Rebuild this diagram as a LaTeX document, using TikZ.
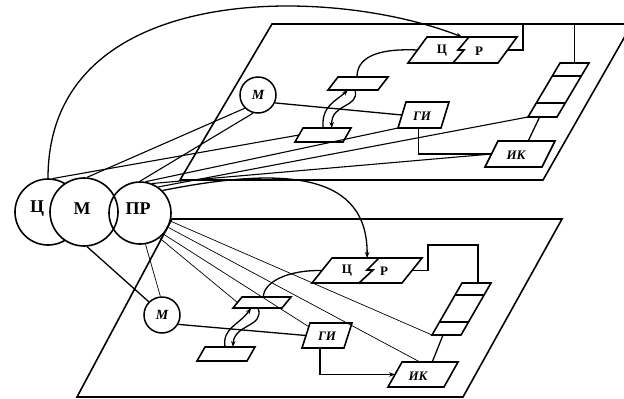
\documentclass[tikz,border=0pt]{standalone}
\usepackage{fontspec}
\setmainfont{Liberation Serif}
\usetikzlibrary{arrows.meta,calc}
\newcommand\pgbox[6]{%
  \coordinate (#1-bl) at (#2,#3);
  \coordinate (#1-br) at ({#2+#4},#3);
  \coordinate (#1-tl) at ({#2+#6},{#3-#5});
  \coordinate (#1-tr) at ({#2+#4+#6},{#3-#5});
  \coordinate (#1-c) at ({#2+#4/2+#6/2},{#3-#5/2});
  \coordinate (#1-l) at ({#2+#6/2},{#3-#5/2});
  \coordinate (#1-r) at ({#2+#4+#6/2},{#3-#5/2});
  \draw[box] (#1-bl) -- (#1-br) -- (#1-tr) -- (#1-tl) -- cycle;
}
\begin{document}
\begin{tikzpicture}[x=1pt,y=-1pt,
  plane/.style={line width=1.6pt,line join=miter},
  box/.style={line width=1.6pt,line join=miter},
  conn/.style={line width=1.3pt},
  fan/.style={line width=1.1pt},
  thinfan/.style={line width=0.7pt},
  arr/.style={-{Stealth[length=6pt,width=4.5pt]}},
  bigc/.style={circle,draw,line width=1.6pt,minimum size=#1,inner sep=0pt},
  smallc/.style={circle,draw,line width=1.5pt,minimum size=36pt,inner sep=0pt,font=\bfseries\itshape\fontsize{14}{14}\selectfont},
  biglbl/.style={font=\bfseries\fontsize{18}{18}\selectfont,inner sep=0pt},
  lbl/.style={font=\bfseries\itshape\fontsize{13}{13}\selectfont,inner sep=0pt},
  ulbl/.style={font=\bfseries\fontsize{13}{13}\selectfont,inner sep=0pt},
]
\useasboundingbox (0,0) rectangle (624,399);

% ---- planes
\coordinate (tp1) at (272,24); \coordinate (tp2) at (632,24);
\coordinate (tp3) at (543,180); \coordinate (tp4) at (180,180);
\draw[plane] (tp1) -- (tp2) -- (tp3) -- (tp4) -- cycle;
\coordinate (bp1) at (172,219); \coordinate (bp2) at (562,219);
\coordinate (bp3) at (463,397); \coordinate (bp4) at (77,397);
\draw[plane] (bp1) -- (bp2) -- (bp3) -- (bp4) -- cycle;

% ---- circles
\node[bigc=66pt,fill=white] (cc) at (48,212) {};
\node[bigc=68pt,fill=white] (cm) at (84,212) {};
\node[bigc=62pt] (cp) at (140,213) {};
\node[biglbl] (cc-t) at (37,209) {Ц};
\node[biglbl] (cm-t) at (82,209) {М};
\node[biglbl] (cp-t) at (138,209) {ПР};

% ---- top plane elements
\pgbox{tcr}{408}{63}{90}{26}{19}
\pgbox{tst}{528}{117}{29}{54}{32}
\pgbox{tik}{485}{167}{57}{26}{13}
\pgbox{tgi}{398}{128}{43}{26}{8}
\pgbox{tpa}{328}{90}{50}{13}{10}
\pgbox{tpb}{295}{142}{48}{14}{8}
\draw[box] (469,37) -- (458,50) -- (464,50) -- (453,63);
\draw[box] ($(tst-bl)!0.26!(tst-tl)$) -- ($(tst-br)!0.26!(tst-tr)$);
\draw[box] ($(tst-bl)!0.76!(tst-tl)$) -- ($(tst-br)!0.76!(tst-tr)$);
\node[ulbl] (tcr-t1) at (442,51) {Ц};
\node[ulbl] (tcr-t2) at (479,51) {Р};
\node[lbl] (tgi-t) at (422,116) {ГИ};
\node[lbl] (tik-t) at (516,155) {ИК};
\node[smallc] (tm) at (258,95) {М};

\coordinate (tk1) at (523,24);
\draw[conn] (tcr-r) -| (tk1);
\coordinate (tst-t) at ($(tst-tl)!0.5!(tst-tr)$);
\draw[conn] (tst-t) -- (tst-t |- tp1);
\draw[conn] ($(tst-bl)!0.4!(tst-br)$) -- ($(tik-tl)!0.53!(tik-tr)$);
\draw[conn] ($(tgi-bl)!0.47!(tgi-br)$) |- (tik-l);
\draw[conn] (tm.-25) -- (tgi-l);
\draw[conn] (tcr-l) .. controls (372,48) and (357,60) .. ($(tpa-tl)!0.38!(tpa-tr)$);
\draw[conn,arr] ($(tpb-tl)!0.42!(tpb-tr)$) .. controls (321,106) and (336,101) .. ($(tpa-bl)!0.4!(tpa-br)$);
\draw[conn,arr] ($(tpa-bl)!0.54!(tpa-br)$) .. controls (360,108) and (331,103) .. ($(tpb-tl)!0.6!(tpb-tr)$);

% ---- bottom plane elements
\pgbox{bcr}{312}{283}{90}{25}{20}
\pgbox{bst}{432}{335}{29}{52}{30}
\pgbox{bik}{388}{387}{56}{25}{14}
\pgbox{bgi}{302}{348}{42}{25}{8}
\pgbox{bpa}{233}{308}{49}{11}{9}
\pgbox{bpb}{197}{361}{50}{14}{8}
\draw[box] (379,258) -- (367,270) -- (373,270) -- (359,283);
\draw[box] ($(bst-bl)!0.25!(bst-tl)$) -- ($(bst-br)!0.25!(bst-tr)$);
\draw[box] ($(bst-bl)!0.77!(bst-tl)$) -- ($(bst-br)!0.77!(bst-tr)$);
\node[ulbl] (bcr-t1) at (347,271) {Ц};
\node[ulbl] (bcr-t2) at (384,271) {Р};
\node[lbl] (bgi-t) at (327,336) {ГИ};
\node[lbl] (bik-t) at (418,376) {ИК};
\node[smallc] (bm) at (162,315) {М};

\coordinate (bk1) at (428,245);
\coordinate (bst-t) at ($(bst-tl)!0.55!(bst-tr)$);
\draw[conn] (bcr-r) -| (bk1) -| (bst-t);
\draw[conn] ($(bst-bl)!0.38!(bst-br)$) -- ($(bik-tl)!0.54!(bik-tr)$);
\draw[conn,arr] ($(bgi-bl)!0.43!(bgi-br)$) |- (bik-l);
\draw[conn] (bm.-30) -- (bgi-l);
\draw[conn] (bcr-l) .. controls (285,270) and (264,283) .. ($(bpa-tl)!0.43!(bpa-tr)$);
\draw[conn,arr] ($(bpb-tl)!0.4!(bpb-tr)$) .. controls (222,328) and (239,325) .. ($(bpa-bl)!0.37!(bpa-br)$);
\draw[conn,arr] ($(bpa-bl)!0.51!(bpa-br)$) .. controls (265,327) and (234,324) .. ($(bpb-tl)!0.56!(bpb-tr)$);

% ---- connectors from circles to the top plane
\draw[conn,arr] (cc.90) .. controls (48,-20) and (330,-15) .. ($(tcr-tl)!0.39!(tcr-tr)$);
\draw[fan] (cc.82) -- (tpb-l);
\draw[fan] (cm.85) -- (tm.-135);
\draw[fan] (cp.90) -- (tm.-105);
\draw[fan] (cp.80) -- (tgi-bl);
\draw[fan] (cp.68) -- (tik-l);
\draw[fan] (cp.55) -- (tst-bl);
\draw[conn,arr] (cp.45) .. controls (290,165) and (368,175) .. ($(bcr-tl)!0.39!(bcr-tr)$);

% ---- connectors from circles to the bottom plane
\draw[thinfan] (cp.-15) -- (bst-bl);
\draw[thinfan] (cp.-27) -- ($(bik-tl)!0.32!(bik-tr)$);
\draw[thinfan] (cp.-42) -- ($(bgi-bl)!0.85!(bgi-tl)$);
\draw[thinfan] (cp.-52) -- (bpa-l);
\draw[thinfan] (cp.-80) -- (bm.95);
\draw[conn] (cm.-85) -- (bm.135);
\end{tikzpicture}
\end{document}
